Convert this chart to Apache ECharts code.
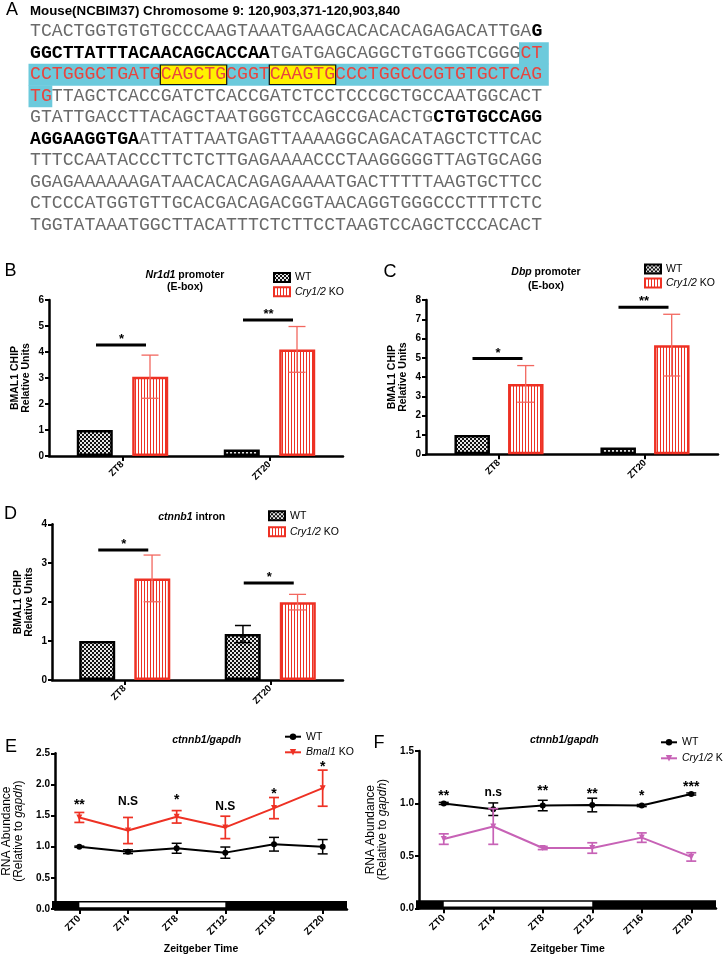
<!DOCTYPE html>
<html><head><meta charset="utf-8">
<script src="https://cdn.jsdelivr.net/npm/echarts@6/dist/echarts.min.js"></script>
<style>html,body{margin:0;padding:0;background:#fff}#c{width:723px;height:956px}</style>
</head><body><div id="c"></div>
<script>
// ---------- Panel A data ----------
const seqTitle = 'Mouse(NCBIM37) Chromosome 9: 120,903,371-120,903,840';
const seqLines = [
  'TCACTGGTGTGTGCCCAAGTAAATGAAGCACACACAGAGACATTGAG',
  'GGCTTATTTACAACAGCACCAATGATGAGCAGGCTGTGGGTCGGGCT',
  'CCTGGGCTGATGCAGCTGCGGTCAAGTGCCCTGGCCCGTGTGCTCAG',
  'TGTTAGCTCACCGATCTCACCGATCTCCTCCCGCTGCCAATGGCACT',
  'GTATTGACCTTACAGCTAATGGGTCCAGCCGACACTGCTGTGCCAGG',
  'AGGAAGGTGAATTATTAATGAGTTAAAAGGCAGACATAGCTCTTCAC',
  'TTTCCAATACCCTTCTCTTGAGAAAACCCTAAGGGGGTTAGTGCAGG',
  'GGAGAAAAAAGATAACACACAGAGAAAATGACTTTTTAAGTGCTTCC',
  'CTCCCATGGTGTTGCACGACAGACGGTAACAGGTGGGCCCTTTTCTC',
  'TGGTATAAATGGCTTACATTTCTCTTCCTAAGTCCAGCTCCCACACT'
];
const boldRuns = [[0,46,47],[1,0,22],[4,37,47],[5,0,10]];      // [line, start, end)
const highlightRuns = [[1,45,47],[2,0,47],[3,0,2]];             // red on cyan
const eboxRuns = [[2,12,18],[2,22,28]];                         // E-boxes

// ---------- Panels B-D (ChIP) ----------
const barCats = ['ZT8','ZT20'];
const bWT = [1.0, 0.25], bKO = [3.05, 4.1], bKOerr = [0.83, 0.88];
const bSigY = [4.27, 5.23], bSigLabels = ['*','**'];
const cWT = [1.0, 0.35], cKO = [3.65, 5.66], cKOerr = [0.95, 1.6];
const cSigY = [4.97, 7.63], cSigLabels = ['*','**'];
const dWT = [1.0, 1.18], dWTerr = [0, 0.22], dKO = [2.61, 2.0], dKOerr = [0.6, 0.2];
const dSigY = [3.34, 2.49], dSigLabels = ['*','*'];

// ---------- Panels E-F (time course) ----------
const ztCats = ['ZT0','ZT4','ZT8','ZT12','ZT16','ZT20'];
const lightPeriod = [0, 3]; // ZT0..ZT12 light
const eWT = [1.0, 0.92, 0.975, 0.905, 1.04, 1.0];
const eWTerr = [0.01, 0.03, 0.08, 0.09, 0.11, 0.115];
const eKO = [1.47, 1.26, 1.48, 1.31, 1.62, 1.94];
const eKOerr = [0.08, 0.21, 0.1, 0.18, 0.17, 0.29];
const eSigLabels = ['**','N.S','*','N.S','*','*'];
const eSigY = [1.72, 1.73, 1.80, 1.64, 1.90, 2.34];
const fWT = [1.0, 0.945, 0.98, 0.985, 0.98, 1.09];
const fWTerr = [0.01, 0.06, 0.05, 0.065, 0.01, 0.01];
const fKO = [0.66, 0.78, 0.575, 0.575, 0.674, 0.49];
const fKOerr = [0.05, 0.17, 0.015, 0.05, 0.045, 0.04];
const fSigLabels = ['**','n.s','**','**','*','***'];
const fSigY = [1.107, 1.107, 1.15, 1.12, 1.10, 1.19];

const FF = '"Liberation Sans", Arial, sans-serif';
const RED = '#ee3124', RED_ERR = '#f2675f', PURPLE = '#c762b6';

function makePattern(w, h, draw) {
  const c = document.createElement('canvas'); c.width = w; c.height = h;
  const x = c.getContext('2d'); draw(x); return { image: c, repeat: 'repeat' };
}
const checker = makePattern(4, 4, x => { x.fillStyle = '#e6e6e6'; x.fillRect(0,0,4,4); x.fillStyle = '#111'; x.fillRect(0,0,2,2); x.fillRect(2,2,2,2); });
const stripes = makePattern(3, 3, x => { x.fillStyle = '#fff'; x.fillRect(0,0,3,3); x.fillStyle = RED; x.fillRect(0,0,1,3); });

const grids = [
  {left:49, top:300, width:294, height:156},
  {left:426, top:300, width:292, height:154.3},
  {left:52, top:524.3, width:291, height:155.7},
  {left:53, top:753.3, width:294, height:155.7},
  {left:419, top:751, width:297, height:157.3}
];

const xAxes = [], yAxes = [], series = [], legends = [];

function baseX(g, cats, lblSize) {
  return { gridIndex:g, type:'category', data:cats,
    axisLine:{lineStyle:{color:'#000', width:2.5}},
    axisTick:{show:true, alignWithLabel:true, length:5, lineStyle:{color:'#000', width:2}},
    axisLabel:{rotate:45, fontWeight:'bold', fontSize:lblSize, color:'#000', margin:7, fontFamily:FF}};
}
function baseY(g, max, interval, name, nameGap, fmt, nameStyle) {
  return { gridIndex:g, type:'value', min:0, max:max, interval:interval,
    axisLine:{show:true, lineStyle:{color:'#000', width:2.5}},
    axisTick:{show:true, length:4, lineStyle:{color:'#000', width:2}},
    splitLine:{show:false},
    axisLabel:{fontWeight:'bold', fontSize:10, color:'#000', margin:5, fontFamily:FF, formatter:fmt},
    name:name, nameLocation:'middle', nameGap:nameGap, nameTextStyle:nameStyle };
}

function errSeries(g, vals, errs, offset, color, capHalf, lw) {
  return { type:'custom', xAxisIndex:g, yAxisIndex:g, silent:true, z:6,
    data: vals.map((v,i)=>[i, v, errs[i]]),
    renderItem(params, api) {
      const i = api.value(0), v = api.value(1), e = api.value(2);
      if (!e) return null;
      const t = api.coord([i, v+e]), b = api.coord([i, v-e]);
      const x = t[0] + offset;
      const st = {stroke:color, lineWidth:lw};
      return {type:'group', children:[
        {type:'line', shape:{x1:x,y1:t[1],x2:x,y2:b[1]}, style:st},
        {type:'line', shape:{x1:x-capHalf,y1:t[1],x2:x+capHalf,y2:t[1]}, style:st},
        {type:'line', shape:{x1:x-capHalf,y1:b[1],x2:x+capHalf,y2:b[1]}, style:st}
      ]};
    }};
}
function sigSeries(g, ys, labels, half) {
  return { type:'custom', xAxisIndex:g, yAxisIndex:g, silent:true, z:6,
    data: ys.map((y,i)=>[i, y]),
    renderItem(params, api) {
      const p = api.coord([api.value(0), api.value(1)]);
      return {type:'group', children:[
        {type:'line', shape:{x1:p[0]-half-1.5,y1:p[1],x2:p[0]+half-1.5,y2:p[1]}, style:{stroke:'#000', lineWidth:3}},
        {type:'text', x:p[0]-1, y:p[1]+1, style:{text:labels[params.dataIndex], fontSize:13, fontWeight:'bold', fontFamily:FF, fill:'#000', align:'center', verticalAlign:'bottom'}}
      ]};
    }};
}
function annSeries(g, ys, labels) {
  return { type:'custom', xAxisIndex:g, yAxisIndex:g, silent:true, z:6,
    data: ys.map((y,i)=>[i, y]),
    renderItem(params, api) {
      const p = api.coord([api.value(0), api.value(1)]);
      const t = labels[params.dataIndex];
      const starOnly = /^\*+$/.test(t);
      return {type:'text', x:p[0], y:p[1] + (starOnly ? 3.5 : 0), style:{text:t, fontSize:starOnly?14:12, fontWeight:'bold', fontFamily:FF, fill:'#000', align:'center', verticalAlign:'middle'}};
    }};
}
function ldSeries(g) {
  return { type:'custom', xAxisIndex:g, yAxisIndex:g, silent:true, z:1,
    data:[[0,0]],
    renderItem(params, api) {
      const cs = params.coordSys;
      const y0 = api.coord([0,0])[1];
      const xl = api.coord([lightPeriod[0],0])[0], xr = api.coord([lightPeriod[1],0])[0];
      return {type:'group', children:[
        {type:'rect', shape:{x:cs.x-3, y:y0-8, width:cs.width+3, height:8.5}, style:{fill:'#000'}},
        {type:'rect', shape:{x:xl, y:y0-6.5, width:xr-xl, height:4.8}, style:{fill:'#fff'}}
      ]};
    }};
}

const yNameBar = {fontWeight:'bold', fontSize:10.5, color:'#000', fontFamily:FF, lineHeight:11, align:'center'};
const legendText = {fontSize:10.5, color:'#000', fontFamily:FF, lineHeight:12, rich:{i:{fontStyle:'italic', fontSize:10.5, fontFamily:FF, lineHeight:12}}};
function legFmt(name) {
  const base = name.split('#')[0];
  if (base === 'Cry1/2 KO') return '{i|Cry1/2} KO';
  if (base === 'Bmal1 KO') return '{i|Bmal1} KO';
  return base;
}

function barPanel(g, tag, max, wt, wtErr, ko, koErr, sigY, sigLabels, bw, gapPct, offset, legPos) {
  xAxes.push(baseX(g, barCats, 9.5));
  yAxes.push(baseY(g, max, 1, 'BMAL1 CHIP\nRelative Units', 17, null, yNameBar));
  series.push({type:'bar', name:'WT#'+tag, xAxisIndex:g, yAxisIndex:g, data:wt, barWidth:bw, barGap:gapPct,
    itemStyle:{color:checker, borderColor:'#000', borderWidth:2.5}, z:3});
  series.push({type:'bar', name:'Cry1/2 KO#'+tag, xAxisIndex:g, yAxisIndex:g, data:ko, barWidth:bw, barGap:gapPct,
    itemStyle:{color:stripes, borderColor:RED, borderWidth:2.5}, z:3});
  if (wtErr) series.push(errSeries(g, wt, wtErr, -offset, '#000', 8, 1.5));
  series.push(errSeries(g, ko, koErr, offset, RED_ERR, 8.5, 1.3));
  series.push(sigSeries(g, sigY, sigLabels, 25));
  legends.push({data:['WT#'+tag, 'Cry1/2 KO#'+tag], left:legPos[0], top:legPos[1], orient:'vertical',
    itemWidth:16, itemHeight:9, itemGap:legPos[2], formatter:legFmt, textStyle:legendText, selectedMode:false, icon:'rect'});
}

barPanel(0, 'B', 6, bWT, null, bKO, bKOerr, bSigY, bSigLabels, 36, '54%', 27.5, [268, 266.5, 2.3]);
barPanel(1, 'C', 8, cWT, null, cKO, cKOerr, cSigY, cSigLabels, 35.5, '51%', 26.7, [639, 258, 2]);
barPanel(2, 'D', 4, dWT, dWTerr, dKO, dKOerr, dSigY, dSigLabels, 36, '53%', 27.3, [263, 504.7, 4]);

const yNameLine = {fontSize:12, color:'#000', fontFamily:FF, lineHeight:12, align:'center', rich:{i:{fontStyle:'italic', fontSize:12, fontFamily:FF, lineHeight:12}}};
function linePanel(g, tag, max, wt, wtErr, ko, koErr, koName, koColor, sigLabels, sigY, legPos) {
  const xa = baseX(g, ztCats, 10);
  xa.axisLabel.margin = 8;
  xa.name = 'Zeitgeber Time'; xa.nameLocation = 'middle'; xa.nameGap = 35;
  xa.nameTextStyle = {fontWeight:'bold', fontSize:10.5, color:'#000', fontFamily:FF};
  xAxes.push(xa);
  yAxes.push(baseY(g, max, 0.5, 'RNA Abundance\n(Relative to {i|gapdh})', 30, v => v.toFixed(1), yNameLine));
  series.push(ldSeries(g));
  series.push({type:'line', name:'WT#'+tag, xAxisIndex:g, yAxisIndex:g, data:wt, symbol:'circle', symbolSize:6,
    lineStyle:{color:'#000', width:2}, itemStyle:{color:'#000'}, z:4});
  series.push({type:'line', name:koName+'#'+tag, xAxisIndex:g, yAxisIndex:g, data:ko, symbol:'triangle', symbolRotate:180, symbolSize:6,
    lineStyle:{color:koColor, width:2}, itemStyle:{color:koColor}, z:4});
  series.push(errSeries(g, wt, wtErr, 0, '#000', 5, 1.5));
  series.push(errSeries(g, ko, koErr, 0, koColor, 5, 1.7));
  series.push(annSeries(g, sigY, sigLabels));
  legends.push({data:['WT#'+tag, koName+'#'+tag], left:legPos[0], top:legPos[1], orient:'vertical',
    itemWidth:16, itemHeight:8, itemGap:legPos[2], formatter:legFmt, textStyle:legendText, selectedMode:false});
}
linePanel(3, 'E', 2.5, eWT, eWTerr, eKO, eKOerr, 'Bmal1 KO', RED, eSigLabels, eSigY, [279, 725.7, 3.6]);
linePanel(4, 'F', 1.5, fWT, fWTerr, fKO, fKOerr, 'Cry1/2 KO', PURPLE, fSigLabels, fSigY, [655, 731.3, 4]);

// ---------- graphic: panel A text + letters + titles ----------
const CW = 10.9, X0 = 30, Y0 = 31.5, LH = 21.5, SEQ_FS = CW / 0.6;
const graphics = [];
highlightRuns.forEach(([l,s,e]) => {
  const x1 = X0 + s*CW - 1.5, x2 = X0 + e*CW + (e === 47 ? 6.5 : 0.5);
  graphics.push({type:'rect', shape:{x:x1, y:Y0 + l*LH - LH/2, width:x2-x1, height:LH+0.5}, style:{fill:'#6ccadc'}, z:1});
});
eboxRuns.forEach(([l,s,e]) => {
  graphics.push({type:'rect', shape:{x:X0 + s*CW - 0.5, y:Y0 + l*LH - 9.5, width:(e-s)*CW + 1, height:19.5}, style:{fill:'#fff200', stroke:'#111', lineWidth:1.2}, z:2});
});
function charStyle(l, i) {
  if (highlightRuns.some(([L,s,e]) => L===l && i>=s && i<e)) return 'red';
  if (boldRuns.some(([L,s,e]) => L===l && i>=s && i<e)) return 'bold';
  return 'norm';
}
const seqStyles = {
  norm:{fill:'#6a6a6a', fontWeight:'normal'},
  bold:{fill:'#000', fontWeight:'bold'},
  red:{fill:'#e8453f', fontWeight:'normal'}
};
seqLines.forEach((line, l) => {
  let start = 0;
  for (let i = 1; i <= line.length; i++) {
    if (i === line.length || charStyle(l, i) !== charStyle(l, start)) {
      const st = seqStyles[charStyle(l, start)];
      graphics.push({type:'text', x:X0 + start*CW, y:Y0 + l*LH, z:3,
        style:{text:line.slice(start, i), fontFamily:'"Liberation Mono", monospace', fontSize:SEQ_FS,
          fontWeight:st.fontWeight, fill:st.fill, align:'left', verticalAlign:'middle'}});
      start = i;
    }
  }
});
graphics.push({type:'text', x:X0, y:11, style:{text:seqTitle, fontFamily:FF, fontSize:13.3, fontWeight:'bold', fill:'#000', align:'left', verticalAlign:'middle'}});
const letters = [['A',12,10.5],['B',10.5,271.5],['C',390,272],['D',10.5,514.5],['E',11,747],['F',379,743.5]];
letters.forEach(([t,x,y]) => graphics.push({type:'text', x:x, y:y, style:{text:t, fontFamily:FF, fontSize:18, fill:'#000', align:'center', verticalAlign:'middle'}}));
const titleRich = {i:{fontStyle:'italic', fontWeight:'bold', fontSize:10.5, fontFamily:FF, fill:'#000'}};
const titles = [
  ['{i|Nr1d1} promoter\n(E-box)', 185, 281.5, 12],
  ['{i|Dbp} promoter\n(E-box)', 546, 278.7, 14],
  ['{i|ctnnb1} intron', 191.7, 516.7, 12],
  ['{i|ctnnb1/gapdh}', 206.7, 740, 12],
  ['{i|ctnnb1/gapdh}', 564.3, 740, 12]
];
titles.forEach(([t,x,y,lh]) => graphics.push({type:'text', x:x, y:y, style:{text:t, rich:titleRich, fontFamily:FF, fontSize:10.5, fontWeight:'bold', fill:'#000', lineHeight:lh, align:'center', verticalAlign:'middle'}}));

const chart = echarts.init(document.getElementById('c'), null, {renderer:'canvas'});
chart.setOption({
  animation:false,
  backgroundColor:'#fff',
  textStyle:{fontFamily:FF},
  grid:grids,
  xAxis:xAxes,
  yAxis:yAxes,
  legend:legends,
  series:series,
  graphic:graphics
});
</script></body></html>
